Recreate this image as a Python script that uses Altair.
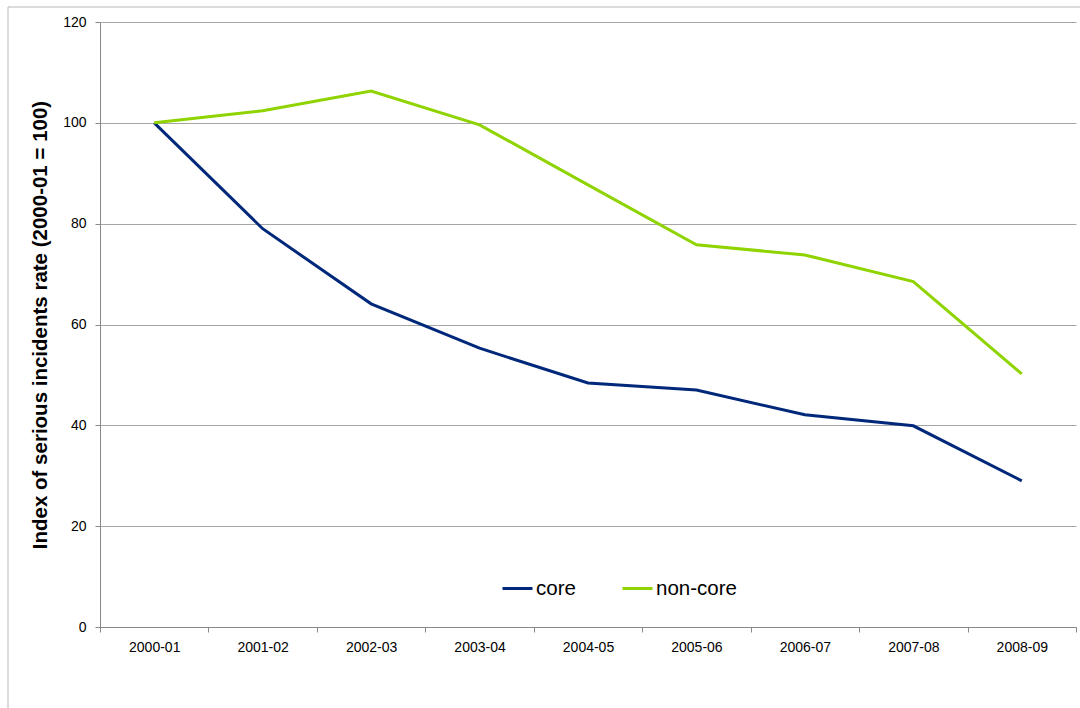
import altair as alt
import pandas as pd

years = ["2000-01", "2001-02", "2002-03", "2003-04", "2004-05",
         "2005-06", "2006-07", "2007-08", "2008-09"]
core = [100, 79.0, 64.1, 55.3, 48.4, 47.0, 42.1, 39.9, 29.0]
non_core = [100, 102.4, 106.3, 99.6, 87.7, 75.8, 73.8, 68.5, 50.2]
series = ["core", "non-core"]
colors = ["#00287A", "#8FD400"]
y_ticks = [0, 20, 40, 60, 80, 100, 120]

rows = []
for s, vals in zip(series, [core, non_core]):
    for yr, v in zip(years, vals):
        rows.append({"year": yr, "value": v, "series": s})
df = pd.DataFrame(rows)

W, H = 976, 605
FONT = "Liberation Sans"

frame = alt.Chart(pd.DataFrame({"a": [0]})).mark_rect(
    fill=None, stroke="#b8b8b8", strokeWidth=1
).encode(
    x=alt.value(-92), x2=alt.value(W + 40),
    y=alt.value(-15), y2=alt.value(H + 120)
)

lines = alt.Chart(df).mark_line(strokeWidth=3).encode(
    x=alt.X("year:N", sort=years, bandPosition=0.5,
            scale=alt.Scale(type="band", paddingInner=0, paddingOuter=0),
            axis=alt.Axis(title=None, tickBand="extent", grid=False,
                          labelAngle=0, labelFontSize=14, labelFont=FONT,
                          labelColor="#000000", labelPadding=8,
                          tickSize=5, tickColor="#888888",
                          domainColor="#888888", labelBaseline="top")),
    y=alt.Y("value:Q", scale=alt.Scale(domain=[0, 120], nice=False),
            axis=alt.Axis(values=y_ticks, title="Index of serious incidents rate (2000-01 = 100)",
                          titleFont=FONT, titleFontSize=20.5, titleFontWeight="bold",
                          titleColor="#000000", titleAngle=-90,
                          titleX=-60, titleY=H / 2, titleAlign="center",
                          titleBaseline="middle",
                          labelFontSize=14, labelFont=FONT, labelColor="#000000",
                          labelPadding=9, tickSize=5, tickColor="#888888",
                          domainColor="#888888", gridColor="#a6a6a6",
                          gridWidth=1)),
    color=alt.Color("series:N", sort=series,
                    scale=alt.Scale(domain=series, range=colors),
                    legend=alt.Legend(title=None, orient="none",
                                      legendX=401, legendY=550,
                                      direction="horizontal",
                                      symbolType="stroke", symbolSize=900,
                                      symbolStrokeWidth=3, labelFontSize=20.5,
                                      labelFont=FONT, labelColor="#000000",
                                      labelOffset=2, columnPadding=40))
)

chart = alt.layer(frame, lines).properties(
    width=W, height=H,
    autosize=alt.AutoSizeParams(type="none"),
    padding={"left": 100, "top": 22, "right": 4, "bottom": 81},
    background="#ffffff"
).configure_view(stroke=None)

chart.save("out.html", embed_options={"renderer": "svg", "actions": False})
